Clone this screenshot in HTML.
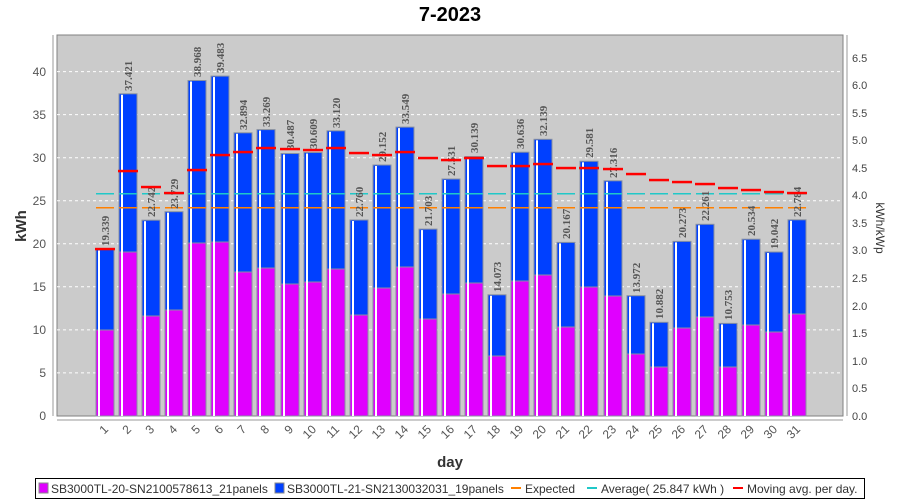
<!DOCTYPE html>
<html><head><meta charset="utf-8"><style>
body{margin:0;background:#fff;width:900px;height:500px;overflow:hidden}
svg{display:block}
.lb{font:bold 11px "Liberation Serif",serif;fill:#555}
.tk{font:12px "Liberation Sans",sans-serif;fill:#555}
.lg{font:12px "Liberation Sans",sans-serif;fill:#333}
</style></head><body>
<svg id="s" width="900" height="500" xmlns="http://www.w3.org/2000/svg">
<text x="450" y="21" text-anchor="middle" style="font:bold 20px 'Liberation Sans',sans-serif" fill="#000">7-2023</text>
<rect x="57" y="35" width="786" height="381" fill="#cbcbcb" stroke="#808080"/>
<g stroke="#fff" stroke-dasharray="3,3" stroke-width="1">
<line x1="57" x2="843" y1="372.9" y2="372.9"/><line x1="57" x2="843" y1="329.9" y2="329.9"/><line x1="57" x2="843" y1="286.8" y2="286.8"/><line x1="57" x2="843" y1="243.8" y2="243.8"/><line x1="57" x2="843" y1="200.7" y2="200.7"/><line x1="57" x2="843" y1="157.7" y2="157.7"/><line x1="57" x2="843" y1="114.6" y2="114.6"/><line x1="57" x2="843" y1="71.6" y2="71.6"/>
</g>
<g id="bars"></g>
<line x1="53" y1="35" x2="53" y2="416" stroke="#999"/>
<line x1="57" y1="420" x2="843" y2="420" stroke="#999"/>
<line x1="847" y1="35" x2="847" y2="416" stroke="#999"/>
<g class="tk" text-anchor="end">
<text x="46" y="420">0</text><text x="46" y="377">5</text><text x="46" y="334">10</text><text x="46" y="291">15</text><text x="46" y="248">20</text><text x="46" y="205">25</text><text x="46" y="162">30</text><text x="46" y="119">35</text><text x="46" y="76">40</text>
</g>
<g style="font:11px 'Liberation Sans',sans-serif;fill:#444">
<text x="852" y="420">0.0</text><text x="852" y="392">0.5</text><text x="852" y="365">1.0</text><text x="852" y="337">1.5</text><text x="852" y="310">2.0</text><text x="852" y="282">2.5</text><text x="852" y="254">3.0</text><text x="852" y="227">3.5</text><text x="852" y="199">4.0</text><text x="852" y="172">4.5</text><text x="852" y="144">5.0</text><text x="852" y="117">5.5</text><text x="852" y="89">6.0</text><text x="852" y="62">6.5</text>
</g>
<text transform="translate(26,226) rotate(-90)" text-anchor="middle" style="font:bold 15px 'Liberation Sans',sans-serif" fill="#333">kWh</text>
<text transform="translate(876,228) rotate(90)" text-anchor="middle" style="font:12px 'Liberation Sans',sans-serif" fill="#333">kWh/kWp</text>
<text x="450" y="467" text-anchor="middle" style="font:bold 15px 'Liberation Sans',sans-serif" fill="#333">day</text>
<g class="tk" text-anchor="end" id="ticks">
<text transform="translate(109,430) rotate(-45)">1</text><text transform="translate(132,430) rotate(-45)">2</text><text transform="translate(155,430) rotate(-45)">3</text><text transform="translate(178,430) rotate(-45)">4</text><text transform="translate(201,430) rotate(-45)">5</text><text transform="translate(224,430) rotate(-45)">6</text><text transform="translate(247,430) rotate(-45)">7</text><text transform="translate(270,430) rotate(-45)">8</text><text transform="translate(294,430) rotate(-45)">9</text><text transform="translate(317,430) rotate(-45)">10</text><text transform="translate(340,430) rotate(-45)">11</text><text transform="translate(363,430) rotate(-45)">12</text><text transform="translate(386,430) rotate(-45)">13</text><text transform="translate(409,430) rotate(-45)">14</text><text transform="translate(432,430) rotate(-45)">15</text><text transform="translate(455,430) rotate(-45)">16</text><text transform="translate(478,430) rotate(-45)">17</text><text transform="translate(501,430) rotate(-45)">18</text><text transform="translate(524,430) rotate(-45)">19</text><text transform="translate(547,430) rotate(-45)">20</text><text transform="translate(570,430) rotate(-45)">21</text><text transform="translate(593,430) rotate(-45)">22</text><text transform="translate(617,430) rotate(-45)">23</text><text transform="translate(640,430) rotate(-45)">24</text><text transform="translate(663,430) rotate(-45)">25</text><text transform="translate(686,430) rotate(-45)">26</text><text transform="translate(709,430) rotate(-45)">27</text><text transform="translate(732,430) rotate(-45)">28</text><text transform="translate(755,430) rotate(-45)">29</text><text transform="translate(778,430) rotate(-45)">30</text><text transform="translate(801,430) rotate(-45)">31</text>
</g>
<g id="lines"></g>
<g class="lb">
<text transform="translate(109,246) rotate(-90)">19.339</text>
<text transform="translate(132,91) rotate(-90)">37.421</text>
<text transform="translate(155,217) rotate(-90)">22.742</text>
<text transform="translate(178,209) rotate(-90)">23.729</text>
<text transform="translate(201,77) rotate(-90)">38.968</text>
<text transform="translate(224,73) rotate(-90)">39.483</text>
<text transform="translate(247,130) rotate(-90)">32.894</text>
<text transform="translate(270,127) rotate(-90)">33.269</text>
<text transform="translate(294,150) rotate(-90)">30.487</text>
<text transform="translate(317,149) rotate(-90)">30.609</text>
<text transform="translate(340,128) rotate(-90)">33.120</text>
<text transform="translate(363,217) rotate(-90)">22.760</text>
<text transform="translate(386,162) rotate(-90)">29.152</text>
<text transform="translate(409,124) rotate(-90)">33.549</text>
<text transform="translate(432,226) rotate(-90)">21.703</text>
<text transform="translate(455,176) rotate(-90)">27.531</text>
<text transform="translate(478,153) rotate(-90)">30.139</text>
<text transform="translate(501,292) rotate(-90)">14.073</text>
<text transform="translate(524,149) rotate(-90)">30.636</text>
<text transform="translate(547,136) rotate(-90)">32.139</text>
<text transform="translate(570,239) rotate(-90)">20.167</text>
<text transform="translate(593,158) rotate(-90)">29.581</text>
<text transform="translate(617,178) rotate(-90)">27.316</text>
<text transform="translate(640,293) rotate(-90)">13.972</text>
<text transform="translate(663,319) rotate(-90)">10.882</text>
<text transform="translate(686,238) rotate(-90)">20.273</text>
<text transform="translate(709,221) rotate(-90)">22.261</text>
<text transform="translate(732,320) rotate(-90)">10.753</text>
<text transform="translate(755,236) rotate(-90)">20.534</text>
<text transform="translate(778,249) rotate(-90)">19.042</text>
<text transform="translate(801,217) rotate(-90)">22.784</text>
</g>
<g id="lines2"></g>
<rect x="35.5" y="478.5" width="829" height="20" fill="#fff" stroke="#000"/>
<rect x="39" y="483" width="9" height="10" fill="#e000ff" stroke="#888"/>
<text class="lg" x="51" y="493">SB3000TL-20-SN2100578613_21panels</text>
<rect x="275" y="483" width="9" height="10" fill="#0040ff" stroke="#888"/>
<text class="lg" x="287" y="493">SB3000TL-21-SN2130032031_19panels</text>
<line x1="511" x2="521" y1="488" y2="488" stroke="#ff8000" stroke-width="2"/>
<text class="lg" x="525" y="493">Expected</text>
<line x1="587" x2="597" y1="488" y2="488" stroke="#20c8c8" stroke-width="2"/>
<text class="lg" x="601" y="493">Average( 25.847 kWh )</text>
<line x1="733" x2="743" y1="488" y2="488" stroke="#ff0000" stroke-width="2"/>
<text class="lg" x="747" y="493">Moving avg. per day.</text>
</svg>
<script>
var cx=[105,128,151,174,197,220,243,266,290,313,336,359,382,405,428,451,474,497,520,543,566,589,613,636,659,682,705,728,751,774,797];
var top_=[249.5,93.8,220.2,211.7,80.5,76.1,132.8,129.6,153.5,152.5,130.8,220,165,127.1,229.1,179,156.5,294.8,152.2,139.3,242.4,161.3,180.8,295.7,322.3,241.4,224.3,323.4,239.2,252,219.8];
var mag=[330,252,316,310,243,242,272,268,284,282,269,315,288,267,319,294,283,356,281,275,327,287,296,354,367,328,317,367,325,332,314];
var ma=[249,171,187,193,170,155,152,148,149,150,148,153,155,152,158,160,158,166,166,164,168,168,169,174,180,182,184,188,190,192,193];
var NS="http://www.w3.org/2000/svg",b=document.getElementById("bars"),l=document.getElementById("lines"),l2=document.getElementById("lines2");
function el(p,t,a){var e=document.createElementNS(NS,t);for(var k in a)e.setAttribute(k,a[k]);p.appendChild(e);}
for(var i=0;i<31;i++){var x=cx[i]-9;
el(b,"rect",{x:x,y:top_[i],width:18,height:416-top_[i],fill:"#0040ff",stroke:"#8890a0"});
el(b,"rect",{x:x,y:mag[i],width:18,height:416-mag[i],fill:"#e000ff",stroke:"#8890a0"});
el(b,"rect",{x:x+2,y:top_[i]+1,width:2,height:415-top_[i],fill:"#fff"});
el(l,"rect",{x:cx[i]-9,width:18,y:207,height:1.5,fill:"#ff8000"});
el(l,"rect",{x:cx[i]-9,width:18,y:193,height:1.5,fill:"#20c8c8"});
el(l2,"rect",{x:cx[i]-10,width:20,y:ma[i]-1.2,height:2.5,fill:"#ff0000"});
}
</script>
</body></html>
